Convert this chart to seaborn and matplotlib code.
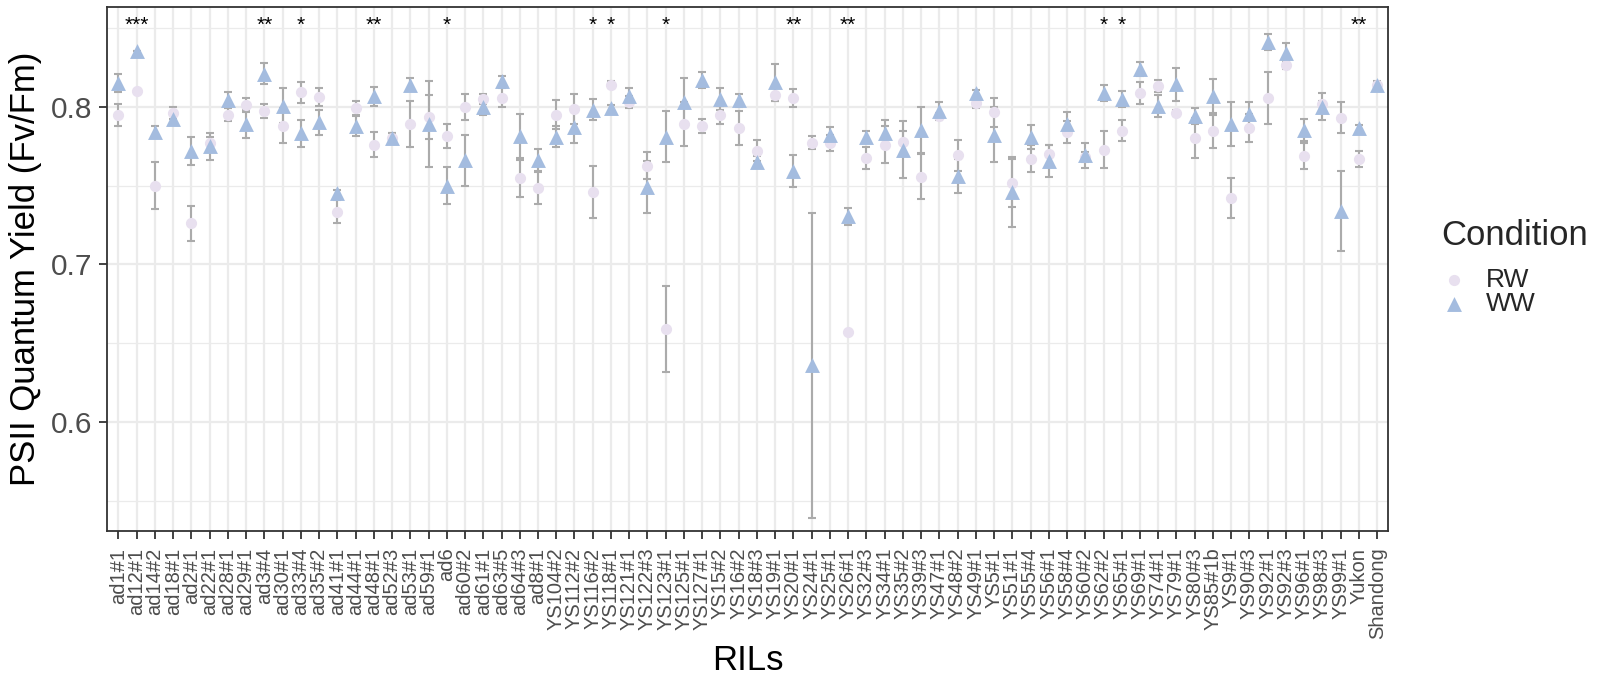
import numpy as np
import pandas as pd
import matplotlib
matplotlib.use("Agg")
import matplotlib.pyplot as plt
import seaborn as sns
from matplotlib.ticker import MultipleLocator

# RIL lines (x categories)
lines = ["ad1#1", "ad12#1", "ad14#2", "ad18#1", "ad2#1", "ad22#1", "ad28#1", "ad29#1",
         "ad3#4", "ad30#1", "ad33#4", "ad35#2", "ad41#1", "ad44#1", "ad48#1", "ad52#3",
         "ad53#1", "ad59#1", "ad6", "ad60#2", "ad61#1", "ad63#5", "ad64#3", "ad8#1",
         "YS104#2", "YS112#2", "YS116#2", "YS118#1", "YS121#1", "YS122#3", "YS123#1",
         "YS125#1", "YS127#1", "YS15#2", "YS16#2", "YS18#3", "YS19#1", "YS20#1", "YS24#1",
         "YS25#1", "YS26#1", "YS32#3", "YS34#1", "YS35#2", "YS39#3", "YS47#1", "YS48#2",
         "YS49#1", "YS5#1", "YS51#1", "YS55#4", "YS56#1", "YS58#4", "YS60#2", "YS62#2",
         "YS65#1", "YS69#1", "YS74#1", "YS79#1", "YS80#3", "YS85#1b", "YS9#1", "YS90#3",
         "YS92#1", "YS92#3", "YS96#1", "YS98#3", "YS99#1", "Yukon", "Shandong"]

# Mean Fv/Fm and standard error, reduced watering (RW)
rw_mean = [0.795, 0.810, 0.750, 0.796, 0.726, 0.777, 0.795, 0.801, 0.797, 0.788,
           0.809, 0.806, 0.7335, 0.799, 0.776, 0.780, 0.789, 0.7935, 0.7815, 0.800,
           0.805, 0.8057, 0.7546, 0.7483, 0.795, 0.7985, 0.7457, 0.814, 0.803, 0.7626,
           0.659, 0.789, 0.7876, 0.795, 0.7865, 0.772, 0.8076, 0.8054, 0.7772, 0.7772,
           0.6572, 0.7674, 0.776, 0.7778, 0.7557, 0.7941, 0.7691, 0.8024, 0.7963, 0.7517,
           0.767, 0.7698, 0.7839, 0.768, 0.7728, 0.7848, 0.8087, 0.813, 0.7959, 0.780,
           0.7843, 0.742, 0.7865, 0.8054, 0.8267, 0.7687, 0.8017, 0.793, 0.767, 0.814]
rw_se = [0.007, 0.0, 0.015, 0.004, 0.011, 0.004, 0.004, 0.0046, 0.0045, 0.011,
         0.0067, 0.0057, 0.0075, 0.0048, 0.0078, 0.003, 0.0147, 0.014, 0.0076, 0.0083,
         0.003, 0.006, 0.0117, 0.010, 0.009, 0.0098, 0.0164, 0.002, 0.004, 0.0087,
         0.027, 0.014, 0.0046, 0.0057, 0.0105, 0.0067, 0.004, 0.0057, 0.004, 0.005,
         0.0, 0.007, 0.012, 0.007, 0.0145, 0.002, 0.010, 0.003, 0.009, 0.015,
         0.0087, 0.006, 0.007, 0.003, 0.012, 0.0065, 0.007, 0.004, 0.002, 0.0126,
         0.0104, 0.0125, 0.009, 0.0166, 0.003, 0.0085, 0.002, 0.010, 0.005, 0.002]

# Mean Fv/Fm and standard error, well watered (WW)
ww_mean = [0.815, 0.835, 0.784, 0.792, 0.772, 0.775, 0.804, 0.789, 0.821, 0.8007,
           0.783, 0.790, 0.745, 0.788, 0.8065, 0.780, 0.814, 0.789, 0.750, 0.766,
           0.800, 0.8163, 0.7815, 0.766, 0.781, 0.787, 0.798, 0.799, 0.8067, 0.749,
           0.781, 0.803, 0.817, 0.805, 0.804, 0.765, 0.8154, 0.7593, 0.636, 0.7822,
           0.7304, 0.7807, 0.7833, 0.7728, 0.785, 0.797, 0.7561, 0.8087, 0.7822, 0.7459,
           0.7807, 0.7654, 0.7893, 0.7691, 0.8087, 0.805, 0.8239, 0.8007, 0.8141, 0.7941,
           0.8067, 0.7891, 0.7952, 0.8409, 0.8343, 0.7854, 0.800, 0.7339, 0.7865, 0.8137]
ww_se = [0.006, 0.0, 0.004, 0.003, 0.009, 0.0085, 0.005, 0.0086, 0.0065, 0.011,
         0.0084, 0.0078, 0.002, 0.0066, 0.0058, 0.003, 0.004, 0.027, 0.012, 0.016,
         0.005, 0.003, 0.014, 0.007, 0.0067, 0.0098, 0.0067, 0.002, 0.005, 0.0165,
         0.016, 0.015, 0.005, 0.007, 0.004, 0.004, 0.0118, 0.010, 0.0965, 0.005,
         0.0054, 0.004, 0.008, 0.018, 0.0145, 0.0057, 0.011, 0.002, 0.0174, 0.022,
         0.0076, 0.010, 0.007, 0.0077, 0.005, 0.005, 0.0043, 0.007, 0.0105, 0.005,
         0.011, 0.014, 0.008, 0.005, 0.006, 0.007, 0.0085, 0.0255, 0.002, 0.002]

# Significance of the RW vs WW difference per line
signif = {"ad12#1": "***", "ad3#4": "**", "ad33#4": "*", "ad48#1": "**", "ad6": "*",
          "YS116#2": "*", "YS118#1": "*", "YS123#1": "*", "YS20#1": "**", "YS26#1": "**",
          "YS62#2": "*", "YS65#1": "*", "Yukon": "**"}

conditions = ["RW", "WW"]
palette = {"RW": "#E8E0EF", "WW": "#A4BCDF"}
markers = {"RW": "o", "WW": "^"}

pos = np.arange(len(lines))
df = pd.concat([
    pd.DataFrame({"pos": pos, "RIL": lines, "Condition": "RW", "mean": rw_mean, "se": rw_se}),
    pd.DataFrame({"pos": pos, "RIL": lines, "Condition": "WW", "mean": ww_mean, "se": ww_se}),
], ignore_index=True)

sns.set_theme(style="white")
plt.rcParams["font.family"] = ["Liberation Sans", "DejaVu Sans"]

fig = plt.figure(figsize=(16.04, 6.81), dpi=100)
ax = fig.add_axes([0.0670, 0.2203, 0.7984, 0.7690])

# Grid: one vertical line per RIL, major/minor horizontals
ax.set_axisbelow(True)
for p in pos:
    ax.axvline(p, color="#EBEBEB", lw=1.6, zorder=0)
ax.yaxis.set_major_locator(MultipleLocator(0.1))
ax.yaxis.set_minor_locator(MultipleLocator(0.05))
ax.grid(axis="y", which="major", color="#EBEBEB", lw=1.6, zorder=0)
ax.grid(axis="y", which="minor", color="#EBEBEB", lw=0.9, zorder=0)

# Error bars (mean ± SE) under the points
for cond in conditions:
    sub = df[df["Condition"] == cond]
    ax.errorbar(sub["pos"], sub["mean"], yerr=sub["se"], fmt="none",
                ecolor="#ABABAB", elinewidth=1.5, capsize=3.2, capthick=1.5, zorder=2)

sizes = {"RW": 65, "WW": 115}
for cond in conditions:
    sub = df[df["Condition"] == cond]
    sns.scatterplot(data=sub, x="pos", y="mean", color=palette[cond], marker=markers[cond],
                    s=sizes[cond], linewidth=0, ax=ax, zorder=3, label=cond)

# Significance stars
for i, name in enumerate(lines):
    if name in signif:
        ax.text(i, 0.8515, signif[name], ha="center", va="center", fontsize=15,
                color="black", zorder=4)

ax.set_xlim(-0.6, len(lines) - 0.4)
ax.set_ylim(0.531, 0.863)
ax.set_xticks(pos)
ax.set_xticklabels(lines, rotation=90, fontsize=14.5, color="#4D4D4D")
ax.set_yticks([0.6, 0.7, 0.8])
ax.set_yticklabels(["0.6", "0.7", "0.8"])
ax.tick_params(axis="y", labelsize=21.5, labelcolor="#4D4D4D", pad=5)
ax.tick_params(axis="x", pad=6)
ax.tick_params(axis="both", which="major", length=6, width=1.3, color="#333333",
               direction="out", bottom=True, left=True)
ax.tick_params(axis="y", which="minor", length=0)

ax.set_xlabel("RILs", fontsize=25, color="black")
ax.xaxis.set_label_coords(0.5, -0.247)
ax.xaxis.label.set_va("center")
ax.set_ylabel("PSII Quantum Yield (Fv/Fm)", fontsize=25, color="black")
ax.yaxis.set_label_coords(-0.064, 0.5)
ax.yaxis.label.set_va("center")

for s in ax.spines.values():
    s.set_color("#333333")
    s.set_linewidth(1.3)

leg = ax.legend(title="Condition", loc="upper left", bbox_to_anchor=(0.8985, 0.678),
                bbox_transform=fig.transFigure, frameon=False, fontsize=19,
                title_fontsize=25, handletextpad=0.7, labelspacing=0.0,
                borderpad=0, borderaxespad=0, handlelength=1.0, markerscale=1.0)
leg._legend_box.align = "left"
# gap between the legend title and its entries
leg._legend_box.sep = 11

fig.savefig("out.png", dpi=100)
